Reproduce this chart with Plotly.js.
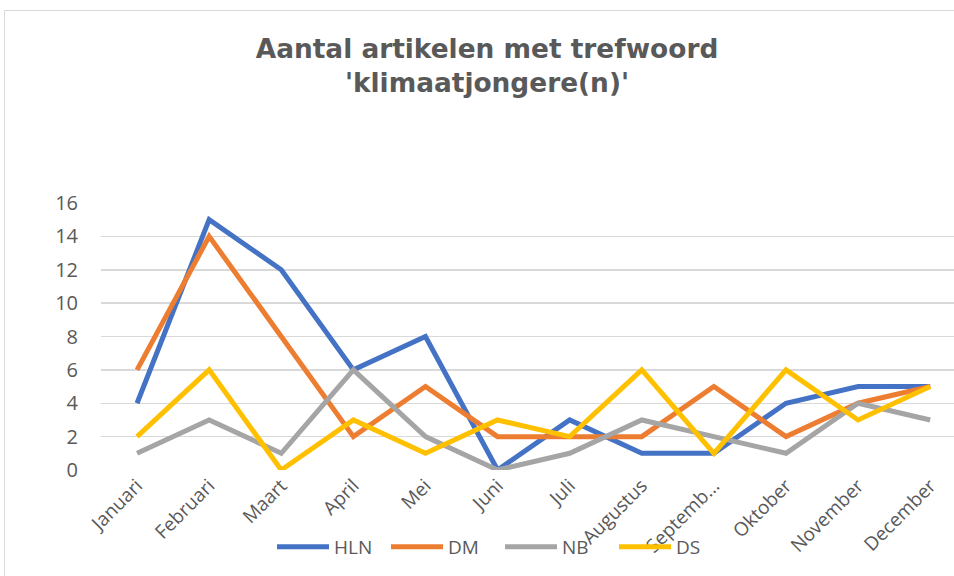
<!DOCTYPE html>
<html>
<head>
<meta charset="utf-8">
<script src="https://cdn.plot.ly/plotly-3.0.1.min.js"></script>
<style>
html,body{margin:0;padding:0;background:#fff;overflow:hidden;}
#chart{width:954px;height:576px;}
</style>
</head>
<body>
<div id="chart"></div>
<script>
const months = ['Januari','Februari','Maart','April','Mei','Juni','Juli','Augustus','September','Oktober','November','December'];
const monthLabels = ['Januari','Februari','Maart','April','Mei','Juni','Juli','Augustus','Septemb...','Oktober','November','December'];
const hln = [4, 15, 12, 6, 8, 0, 3, 1, 1, 4, 5, 5];
const dm  = [6, 14, 8, 2, 5, 2, 2, 2, 5, 2, 4, 5];
const nb  = [1, 3, 1, 6, 2, 0, 1, 3, 2, 1, 4, 3];
const ds  = [2, 6, 0, 3, 1, 3, 2, 6, 1, 6, 3, 5];
const yTicks = [0, 2, 4, 6, 8, 10, 12, 14, 16];

const series = [
  {name: 'HLN', y: hln, color: '#4472C4'},
  {name: 'DM',  y: dm,  color: '#ED7D31'},
  {name: 'NB',  y: nb,  color: '#A5A5A5'},
  {name: 'DS',  y: ds,  color: '#FFC000'}
];

const traces = series.map(s => ({
  type: 'scatter',
  mode: 'lines',
  name: s.name,
  x: months,
  y: s.y,
  line: {color: s.color, width: 5, shape: 'linear'},
  hoverinfo: 'skip'
}));

const W = 954, H = 576;
const mL = 101, mR = 0, mT = 203, mB = 106;
const plotW = W - mL - mR, plotH = H - mT - mB;

const layout = {
  width: W, height: H,
  margin: {l: mL, r: mR, t: mT, b: mB, pad: 0},
  paper_bgcolor: '#ffffff',
  plot_bgcolor: '#ffffff',
  font: {family: 'Open Sans, sans-serif', color: '#595959', size: 18},
  title: {
    text: "Aantal artikelen met trefwoord<br>'klimaatjongere(n)'",
    font: {family: 'DejaVu Sans, sans-serif', size: 26.4, color: '#595959', weight: 'bold'},
    x: 487 / W, xref: 'container', xanchor: 'center',
    y: 1 - 58 / H, yref: 'container', yanchor: 'top'
  },
  xaxis: {
    type: 'category',
    tickmode: 'array',
    tickvals: months,
    ticktext: monthLabels,
    tickangle: -45,
    range: [-0.5, 11.33],
    showgrid: false,
    showline: false,
    zeroline: false,
    ticks: '',
    ticklen: 0,
    tickfont: {family: 'Open Sans, sans-serif', size: 19, color: '#595959'},
    fixedrange: true
  },
  yaxis: {
    range: [0, 16],
    tickmode: 'array',
    tickvals: yTicks,
    showgrid: true,
    gridcolor: '#D9D9D9',
    gridwidth: 1.5,
    zeroline: false,
    showline: false,
    ticks: '',
    ticklabelstandoff: 22,
    tickfont: {family: 'Open Sans, sans-serif', size: 20, color: '#595959'},
    fixedrange: true
  },
  showlegend: true,
  legend: {
    orientation: 'h',
    x: (272 - mL) / plotW, xanchor: 'left',
    y: -(547 - (H - mB)) / plotH, yanchor: 'middle',
    font: {family: 'Open Sans, sans-serif', size: 19, color: '#595959'},
    bgcolor: 'rgba(0,0,0,0)',
    itemwidth: 52,
    entrywidth: 47,
    entrywidthmode: 'pixels',
    traceorder: 'normal'
  },
  shapes: [{
    type: 'rect', xref: 'paper', yref: 'paper',
    x0: (4.5 - mL) / plotW, x1: (W + 20 - mL) / plotW,
    y0: (H - mB - (H + 20)) / plotH, y1: (H - mB - 10.5) / plotH,
    line: {color: '#D9D9D9', width: 1},
    layer: 'below'
  }]
};

Plotly.newPlot('chart', traces, layout, {displayModeBar: false, staticPlot: true});
</script>
</body>
</html>
